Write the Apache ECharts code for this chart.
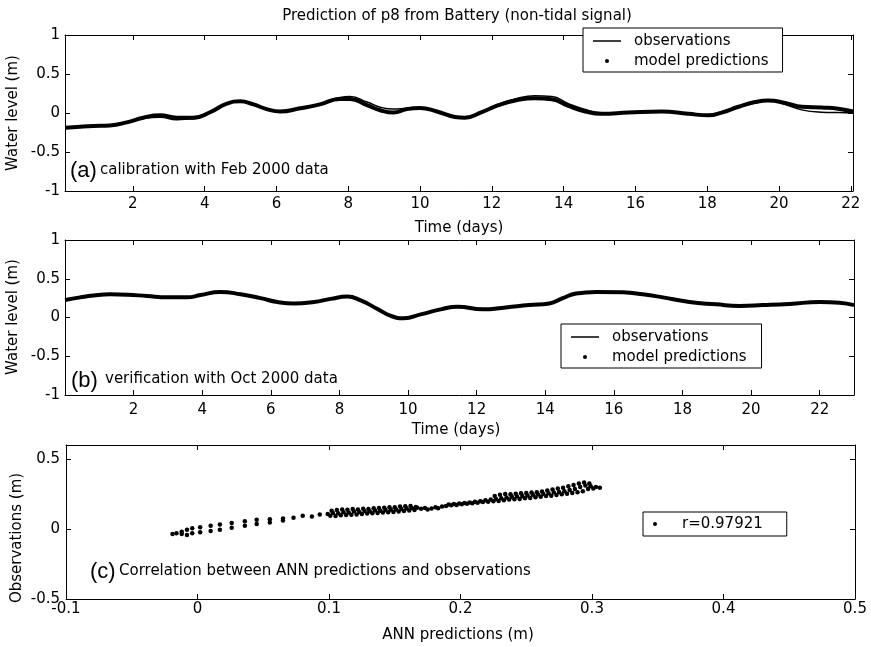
<!DOCTYPE html>
<html><head><meta charset="utf-8">
<script src="https://cdn.jsdelivr.net/npm/echarts@6/dist/echarts.min.js"></script>
<style>html,body{margin:0;padding:0;background:#fff}#c{width:871px;height:647px}</style>
</head><body><div id="c"></div>
<script>
// ---- Panel (a): calibration, Feb 2000 ----
const calDays = [0.11,0.44,0.9,1.36,1.83,2.29,2.76,3.22,3.69,4.15,4.62,4.99,5.36,5.73,6.1,6.66,7.21,7.77,8.05,8.52,8.89,9.26,9.63,10.0,10.47,10.97,11.25,11.72,12.18,12.65,13.2,13.67,14.13,14.6,15.06,15.8,16.73,17.47,18.03,18.4,18.87,19.33,19.7,20.17,20.63,21.19,21.65,22.06];
const calObs  = [-0.20,-0.18,-0.17,-0.16,-0.12,-0.07,-0.055,-0.085,-0.075,0.0,0.12,0.15,0.11,0.05,0.02,0.06,0.11,0.20,0.21,0.14,0.075,0.05,0.06,0.065,0.02,-0.05,-0.06,0.02,0.11,0.18,0.22,0.21,0.12,0.045,0.0,0.005,0.02,-0.01,-0.03,0.0,0.07,0.13,0.16,0.11,0.04,0.01,0.005,0.0];
const calPred = [-0.19,-0.18,-0.167,-0.16,-0.12,-0.06,-0.03,-0.06,-0.06,0.01,0.12,0.15,0.11,0.05,0.02,0.06,0.11,0.18,0.18,0.10,0.035,0.005,0.05,0.065,0.02,-0.05,-0.06,0.01,0.10,0.16,0.19,0.175,0.09,0.02,-0.01,0.005,0.02,-0.01,-0.03,0.005,0.08,0.14,0.16,0.13,0.08,0.07,0.055,0.02];

// ---- Panel (b): verification, Oct 2000 ----
const verDays = [0,0.44,0.83,1.32,1.81,2.39,2.98,3.56,3.95,4.53,5.12,5.7,6.19,6.67,7.26,7.74,8.23,8.62,9.11,9.5,9.88,10.37,10.95,11.45,12.17,12.85,13.53,14.12,14.51,14.9,15.48,16.26,16.84,17.43,18.2,18.98,19.66,20.35,21.12,22.0,22.58,23.0];
const verObs  = [0.22,0.255,0.28,0.295,0.29,0.275,0.255,0.255,0.285,0.325,0.30,0.245,0.20,0.175,0.195,0.235,0.265,0.225,0.115,0.025,-0.015,0.04,0.10,0.135,0.10,0.125,0.155,0.175,0.255,0.305,0.325,0.32,0.30,0.26,0.205,0.17,0.145,0.155,0.17,0.195,0.19,0.155];
const verPred = [0.225,0.26,0.285,0.30,0.295,0.277,0.26,0.26,0.29,0.33,0.30,0.25,0.20,0.18,0.20,0.24,0.27,0.22,0.11,0.02,-0.01,0.04,0.105,0.14,0.105,0.13,0.16,0.18,0.25,0.31,0.33,0.325,0.30,0.26,0.20,0.17,0.15,0.16,0.175,0.20,0.19,0.16];

// ---- Panel (c): ANN predictions vs observations ----
const annPred = [
 -0.019,-0.016,-0.012,-0.012,-0.008,-0.008,-0.004,-0.004,0.002,0.002,
 0.010,0.010,0.017,0.017,0.026,0.026,0.036,0.036,0.045,0.045,
 0.055,0.055,0.065,0.065,0.073,0.080,0.087,0.093,0.099,
 0.101,0.103,0.102, 0.105,0.107,0.106, 0.109,0.111,0.110, 0.113,0.115,0.114, 0.117,0.119,0.118,
 0.121,0.123,0.122, 0.125,0.127,0.126, 0.129,0.131,0.130, 0.133,0.135,0.134, 0.137,0.139,0.138,
 0.141,0.143,0.142, 0.145,0.147,0.146, 0.149,0.151,0.150, 0.153,0.155,0.154, 0.157,0.159,0.158,
 0.161,0.163,0.162, 0.165,0.167,0.166,
 0.170, 0.173,0.175, 0.178, 0.181,0.183, 0.186,
 0.189,0.191, 0.193,0.195, 0.197,0.199, 0.201,0.203, 0.205,0.207, 0.209,0.211, 0.213,0.215, 0.217,0.219, 0.221,0.223,
 0.225,0.227,0.226, 0.229,0.231,0.230, 0.233,0.235,0.234, 0.237,0.239,0.238, 0.241,0.243,0.242,
 0.245,0.247,0.246, 0.249,0.251,0.250, 0.253,0.255,0.254, 0.257,0.259,0.258, 0.261,0.263,0.262,
 0.265,0.267,0.266, 0.269,0.271,0.270, 0.273,0.275,0.274, 0.277,0.279,0.278, 0.281,0.283,0.282,
 0.285,0.287,0.286, 0.289,0.291,0.290, 0.293,0.295,0.294, 0.297,0.299,0.298,
 0.301,0.303, 0.306
];
const annObs = [
 -0.035,-0.031,-0.035,-0.019,-0.005,-0.042,0.005,-0.031,0.012,-0.023,
 0.023,-0.014,0.033,-0.005,0.042,0.009,0.056,0.023,0.066,0.035,
 0.070,0.047,0.075,0.061,0.080,0.094,0.089,0.103,0.108,
 0.095,0.115,0.130, 0.092,0.112,0.135, 0.098,0.120,0.140, 0.100,0.118,0.138, 0.102,0.125,0.142,
 0.104,0.122,0.140, 0.108,0.128,0.145, 0.110,0.126,0.142, 0.112,0.132,0.148, 0.115,0.130,0.150,
 0.118,0.136,0.152, 0.120,0.138,0.155, 0.122,0.140,0.156, 0.125,0.142,0.160, 0.128,0.146,0.162,
 0.132,0.150,0.165, 0.135,0.152,0.158,
 0.145, 0.150,0.140, 0.146, 0.155,0.148, 0.160,
 0.165,0.175, 0.170,0.178, 0.172,0.182, 0.176,0.185, 0.180,0.190, 0.184,0.195, 0.188,0.198, 0.192,0.205, 0.195,0.210,
 0.198,0.215,0.235, 0.200,0.220,0.245, 0.205,0.225,0.250, 0.210,0.230,0.248, 0.212,0.232,0.252,
 0.215,0.236,0.255, 0.220,0.240,0.258, 0.222,0.244,0.260, 0.226,0.246,0.262, 0.230,0.250,0.268,
 0.235,0.255,0.275, 0.238,0.260,0.282, 0.242,0.265,0.290, 0.248,0.270,0.295, 0.252,0.278,0.305,
 0.258,0.285,0.315, 0.262,0.300,0.325, 0.270,0.310,0.332, 0.285,0.305,0.325,
 0.290,0.300, 0.295
];

// ---- Tick labels ----
const timeTicks = [2,4,6,8,10,12,14,16,18,20,22];
const levelTicks = [-1,-0.5,0,0.5,1];
const annTicksX = [-0.1,0,0.1,0.2,0.3,0.4,0.5];
const annTicksY = [-0.5,0,0.5];

const FONT = 'DejaVu Sans';
const BLACK = '#000';
const LINE_ICON = 'path://M0,0 L28,0 L28,1.5 L0,1.5 Z';

function zip(a, b) { return a.map((v, i) => [v, b[i]]); }

function axis(grid, min, max, ticks, showLabel, pos, margin) {
  return {
    type: 'value', gridIndex: grid, position: pos, min: min, max: max,
    axisLine: { show: true, onZero: false, lineStyle: { color: BLACK, width: 1 } },
    axisTick: { show: true, inside: true, length: 5, customValues: ticks, lineStyle: { color: BLACK, width: 1 } },
    axisLabel: { show: showLabel, customValues: ticks, margin: margin, color: BLACK, fontFamily: FONT, fontSize: 15 },
    splitLine: { show: false }
  };
}

function legendBox(left, top, names, pad) {
  return {
    left: left, top: top, orient: 'vertical', selectedMode: false,
    data: names,
    itemWidth: 28, itemHeight: 4, itemGap: 0,
    padding: pad, borderColor: BLACK, borderWidth: 1, backgroundColor: '#fff',
    textStyle: { fontFamily: FONT, fontSize: 15, color: BLACK, lineHeight: 20, padding: [0, 0, 0, 8] }
  };
}

function txt(x, y, s, font, align, rot) {
  return {
    type: 'text', x: x, y: y, rotation: rot || 0, z: 100,
    style: { text: s, font: font, fill: BLACK, textAlign: align, textVerticalAlign: 'middle', align: align, verticalAlign: 'middle' }
  };
}

function lineSeries(name, xi, days, vals, width) {
  return { name: name, type: 'line', xAxisIndex: xi, yAxisIndex: xi, data: zip(days, vals),
    smooth: 0.5, symbol: 'none', itemStyle: { color: BLACK }, lineStyle: { color: BLACK, width: width } };
}

const chart = echarts.init(document.getElementById('c'), null, { renderer: 'canvas' });
const F15 = '15px "DejaVu Sans"';
const F22 = '22px "Liberation Sans"';
const obsItem = { name: 'observations', icon: LINE_ICON };
const predItem = { name: 'model predictions', icon: 'circle' };

chart.setOption({
  animation: false,
  backgroundColor: '#fff',
  grid: [
    { left: 65, top: 35, width: 788, height: 156 },
    { left: 65, top: 240, width: 789, height: 155 },
    { left: 66, top: 445, width: 789, height: 154 }
  ],
  xAxis: [
    axis(0, 0.11, 22.06, timeTicks, true, 'bottom', 6),
    axis(0, 0.11, 22.06, timeTicks, false, 'top', 6),
    axis(1, 0, 23, timeTicks, true, 'bottom', 8),
    axis(1, 0, 23, timeTicks, false, 'top', 8),
    axis(2, -0.1, 0.5, annTicksX, true, 'bottom', 3),
    axis(2, -0.1, 0.5, annTicksX, false, 'top', 3)
  ],
  yAxis: [
    axis(0, -1, 1, levelTicks, true, 'left', 5),
    axis(0, -1, 1, levelTicks, false, 'right', 5),
    axis(1, -1, 1, levelTicks, true, 'left', 5),
    axis(1, -1, 1, levelTicks, false, 'right', 5),
    axis(2, -0.5, 0.6, annTicksY, true, 'left', 6),
    axis(2, -0.5, 0.6, annTicksY, false, 'right', 6)
  ],
  legend: [
    legendBox(583, 28, [obsItem, predItem], [3, 14, 1, 10]),
    legendBox(561, 324, [obsItem, predItem], [3, 15, 1, 10]),
    legendBox(643, 512, [{ name: 'r=0.97921', icon: 'circle' }], [2, 24, 2, 10])
  ],
  series: [
    lineSeries('model predictions', 0, calDays, calPred, 4),
    lineSeries('observations', 0, calDays, calObs, 1.5),
    lineSeries('model predictions', 2, verDays, verPred, 4),
    lineSeries('observations', 2, verDays, verObs, 1.5),
    { name: 'r=0.97921', type: 'scatter', xAxisIndex: 4, yAxisIndex: 4, data: zip(annPred, annObs),
      symbol: 'circle', symbolSize: 4.5, itemStyle: { color: BLACK, opacity: 1 } }
  ],
  graphic: [
    txt(457, 16, 'Prediction of p8 from Battery (non-tidal signal)', F15, 'center'),
    txt(13.5, 113, 'Water level (m)', F15, 'center', Math.PI / 2),
    txt(13.5, 317, 'Water level (m)', F15, 'center', Math.PI / 2),
    txt(17, 538, 'Observations (m)', F15, 'center', Math.PI / 2),
    txt(459, 228, 'Time (days)', F15, 'center'),
    txt(456, 430, 'Time (days)', F15, 'center'),
    txt(458, 635, 'ANN predictions (m)', F15, 'center'),
    txt(70, 171, '(a)', F22, 'left'),
    txt(100, 170, 'calibration with Feb 2000 data', F15, 'left'),
    txt(71, 381, '(b)', F22, 'left'),
    txt(105, 379, 'verification with Oct 2000 data', F15, 'left'),
    txt(90, 572, '(c)', F22, 'left'),
    txt(119, 571, 'Correlation between ANN predictions and observations', F15, 'left')
  ]
});
</script>
</body></html>
